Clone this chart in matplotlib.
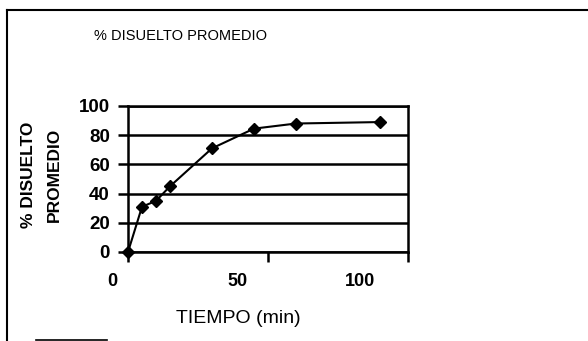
import matplotlib
matplotlib.use("Agg")
import matplotlib.pyplot as plt
from matplotlib.lines import Line2D
from matplotlib.transforms import ScaledTranslation
from matplotlib import font_manager

# Data
tiempo = [0, 5, 10, 15, 30, 45, 60, 90]
disuelto = [0, 31, 35, 45, 71, 84.5, 88, 89]
x_ticks = [0, 50, 100]
y_ticks = [0, 20, 40, 60, 80, 100]
title = "% DISUELTO PROMEDIO"
ylabel = "% DISUELTO\nPROMEDIO"
xlabel = "TIEMPO (min)"

plt.rcParams['font.family'] = ['Liberation Sans', 'DejaVu Sans']
names = sorted({f.name for f in font_manager.fontManager.ttflist})
narrow = 'Liberation Sans Narrow' if 'Liberation Sans Narrow' in names else 'Liberation Sans'
print(narrow)

W, H = 588, 341
fig = plt.figure(figsize=(W / 100, H / 100), dpi=100)
fig.patch.set_facecolor('white')

l, r, t, b = 128, 408, 106, 252
ax = fig.add_axes([l / W, (H - b) / H, (r - l) / W, (b - t) / H])
ax.set_facecolor('white')

ax.plot(tiempo, disuelto, color='black', lw=1.5, marker='D', ms=6.5,
        mfc='black', mec='black', zorder=3, clip_on=False)

ax.set_xlim(0, 100)
ax.set_ylim(0, 100)
ax.set_xticks(x_ticks)
ax.set_yticks(y_ticks)
ax.set_xticklabels([str(v) for v in x_ticks], fontsize=13, fontweight='bold')
ax.set_yticklabels([str(v) for v in y_ticks], fontsize=13.5, fontweight='bold')
ax.tick_params(axis='both', direction='out', length=7, width=1.8, color='black')
ax.tick_params(axis='y', pad=6)
ax.tick_params(axis='x', pad=8)

# shift x tick labels as in the scan
offsets = {0: -16, 50: -31, 100: -48}
for lab, v in zip(ax.get_xticklabels(), x_ticks):
    lab.set_transform(lab.get_transform() + ScaledTranslation(offsets[v] / 100, 0, fig.dpi_scale_trans))

ax.yaxis.grid(True, color='black', lw=1.8)
ax.set_axisbelow(True)
for s in ax.spines.values():
    s.set_color('black')
    s.set_linewidth(1.8)

ysize = 15 if narrow != 'Liberation Sans' else 12.5
ax.set_ylabel(ylabel, fontsize=ysize, fontweight='bold', family=[narrow, 'DejaVu Sans'],
              linespacing=1.55 if narrow != 'Liberation Sans' else 1.9, multialignment='center')
ax.yaxis.set_label_coords((62 - l) / (r - l), (b - 175) / (b - t))
ax.set_xlabel(xlabel, fontsize=14)
ax.xaxis.set_label_coords((238 - l) / (r - l), -(310 - b) / (b - t))

fig.text(180 / W, 1 - 36 / H, title, fontsize=12.5 if narrow != 'Liberation Sans' else 10.5,
         family=[narrow, 'DejaVu Sans'], ha='center', va='center')

# outer frame fragments
fig.add_artist(Line2D([7 / W, 1.0], [1 - 10 / H, 1 - 10 / H], color='black', lw=1.5, transform=fig.transFigure))
fig.add_artist(Line2D([7 / W, 7 / W], [0, 1 - 10 / H], color='black', lw=1.5, transform=fig.transFigure))
fig.add_artist(Line2D([36 / W, 107 / W], [1.5 / H, 1.5 / H], color='black', lw=1.2, transform=fig.transFigure))

fig.savefig("out.png", dpi=100)
